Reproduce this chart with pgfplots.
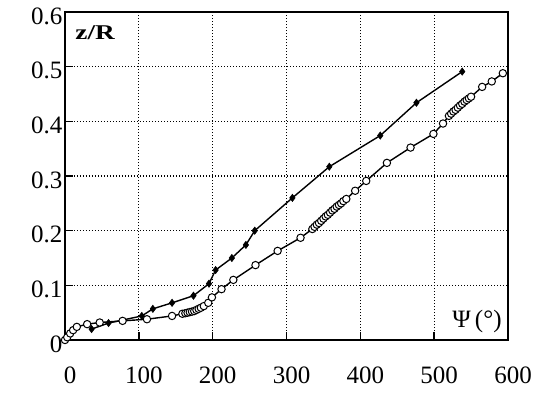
\documentclass[border=0pt]{standalone}
\usepackage{fontspec}
\setmainfont{Liberation Serif}
\usepackage{pgfplots}
\pgfplotsset{compat=1.18}

% open circles: measured z/R against azimuth
\pgfplotstableread{
psi   z
0     0.000
3     0.005
7     0.012
11    0.018
16    0.024
30    0.029
47    0.032
78    0.035
111   0.038
145   0.044
159   0.048
163   0.049
166   0.050
169   0.051
172   0.052
175   0.053
178   0.055
181   0.057
184   0.059
188   0.062
194   0.068
199   0.078
212   0.093
228   0.110
258   0.137
288   0.163
319   0.187
335   0.203
338   0.207
341   0.211
344   0.214
347   0.218
350   0.222
353   0.226
356   0.229
359   0.233
362   0.237
365   0.240
368   0.244
371   0.247
374   0.250
377   0.254
381   0.258
393   0.273
408   0.291
436   0.324
468   0.352
499   0.377
512   0.396
520   0.410
523   0.414
526   0.418
529   0.421
532   0.425
535   0.429
538   0.432
541   0.436
544   0.439
547   0.442
550   0.445
565   0.463
578   0.473
593   0.488
}\opendata

% filled diamonds
\pgfplotstableread{
psi   z
36    0.020
59    0.031
104   0.044
119   0.057
145   0.068
174   0.081
195   0.103
204   0.128
226   0.150
245   0.174
257   0.200
308   0.260
358   0.317
427   0.374
476   0.434
538   0.491
}\filleddata

\begin{document}
\begin{tikzpicture}
\begin{axis}[
  at={(65pt,54pt)}, anchor=south west,
  scale only axis, width=443pt, height=328pt,
  xmin=0, xmax=600, ymin=0, ymax=0.6,
  xtick={0,100,200,300,400,500,600},
  ytick={0,0.1,0.2,0.3,0.4,0.5,0.6},
  tick pos=left,
  tick align=inside,
  major tick length=8pt,
  axis line style={line width=1.8pt},
  tick style={line width=1.5pt, black},
  grid=major,
  major grid style={line width=1.3pt, dash pattern=on 1.3pt off 1.7pt, black},
  tick label style={font=\fontsize{25}{28}\selectfont},
  /pgf/number format/assume math mode=true,
  yticklabel style={/pgf/number format/fixed, yshift=-4pt, xshift=1pt},
  xticklabel style={yshift=-23pt, xshift=5pt},
  clip=false,
]
\addplot[black, line width=1.4pt, mark=diamond*, mark size=3.6pt,
  mark options={fill=black, line width=0.6pt}] table[x=psi, y=z] {\filleddata};
\addplot[black, line width=1.4pt, mark=*, mark size=3.7pt,
  mark options={fill=white, draw=black, line width=1pt}] table[x=psi, y=z] {\opendata};
\node[anchor=base west, inner sep=0pt, font=\fontsize{21}{24}\selectfont\bfseries]
  at (rel axis cs:0.023,0.917) {\scalebox{1.3}[1]{z/R}};
\node[anchor=base east, inner sep=0pt, font=\fontsize{25}{28}\selectfont]
  at (rel axis cs:0.986,0.037) {Ψ\,(°)};
\end{axis}
\pgfresetboundingbox
\path (0,0) rectangle (541pt,394pt);
\end{tikzpicture}
\end{document}
